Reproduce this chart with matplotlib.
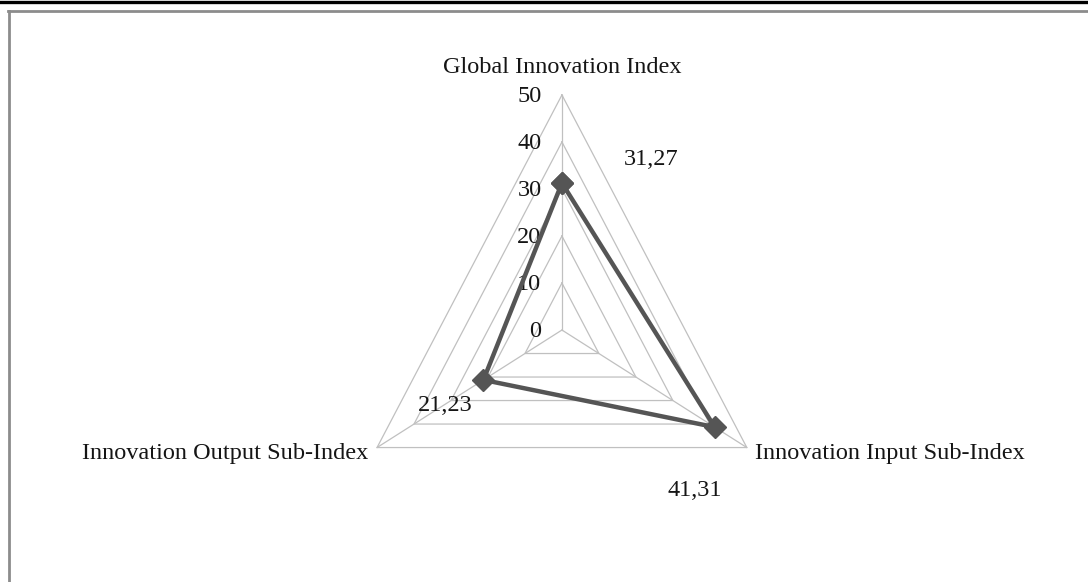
import numpy as np
import matplotlib
matplotlib.use('agg')
import matplotlib.pyplot as plt
from matplotlib.lines import Line2D

categories = ['Global Innovation Index', 'Innovation Input Sub-Index',
              'Innovation Output Sub-Index']
values = [31.27, 41.31, 21.23]
value_labels = ['31,27', '41,31', '21,23']
ticks = [0, 10, 20, 30, 40, 50]

plt.rcParams['font.family'] = ['Liberation Serif', 'DejaVu Serif']

fig = plt.figure(figsize=(10.88, 5.82), dpi=100)
ax = fig.add_axes([0, 0, 1, 1])
ax.set_xlim(-131.6, 123.2)
ax.set_ylim(-53.6, 70.2)
ax.axis('off')

# spoke angles: top, lower right, lower left
angles = np.deg2rad([90, -30, 210])
cx, cy = np.cos(angles), np.sin(angles)

grid_color = '#c0c0c0'
for t in ticks:
    ax.plot(np.append(cx, cx[0]) * t, np.append(cy, cy[0]) * t,
            color=grid_color, lw=0.9, zorder=1)
for i in range(3):
    ax.plot([0, cx[i] * ticks[-1]], [0, cy[i] * ticks[-1]],
            color=grid_color, lw=0.9, zorder=1)

txt = '#151515'
fs = 17.5

# tick labels along the top spoke
for t in ticks:
    ax.text(-4.8, t - 0.4, str(t), ha='right', va='center', fontsize=fs,
            color=txt, zorder=2)

# data series
v = np.array(values)
ax.plot(np.append(cx * v, cx[0] * v[0]), np.append(cy * v, cy[0] * v[0]),
        color='#555555', lw=3.2, marker='D', markersize=11,
        markerfacecolor='#555555', markeredgecolor='#555555', zorder=3)

# category labels
ax.text(0, 53.6, categories[0], ha='center', va='bottom', fontsize=fs,
        color=txt)
ax.text(cx[1] * 50 + 2.0, cy[1] * 50 - 1.3, categories[1], ha='left',
        va='center', fontsize=fs, color=txt)
ax.text(cx[2] * 50 - 2.0, cy[2] * 50 - 1.3, categories[2], ha='right',
        va='center', fontsize=fs, color=txt)

# value labels
ax.text(cx[0] * v[0] + 14.5, cy[0] * v[0] + 5.0, value_labels[0],
        ha='left', va='center', fontsize=fs, color=txt)
ax.text(cx[1] * v[1] - 11.0, cy[1] * v[1] - 13.5, value_labels[1],
        ha='left', va='center', fontsize=fs, color=txt)
ax.text(cx[2] * v[2] - 9.0, cy[2] * v[2] - 5.5, value_labels[2],
        ha='center', va='center', fontsize=fs, color=txt)

# page frame
W, H = 1088, 582
fig.add_artist(Line2D([0, 1], [1 - 1.5 / H, 1 - 1.5 / H], color='black',
                      lw=2.4, transform=fig.transFigure))
fig.add_artist(Line2D([8 / W, 1], [1 - 10.5 / H, 1 - 10.5 / H],
                      color='#8c8c8c', lw=2, transform=fig.transFigure))
fig.add_artist(Line2D([8.5 / W, 8.5 / W], [0, 1 - 10.5 / H],
                      color='#8c8c8c', lw=2, transform=fig.transFigure))

fig.savefig('out.png', dpi=100)
